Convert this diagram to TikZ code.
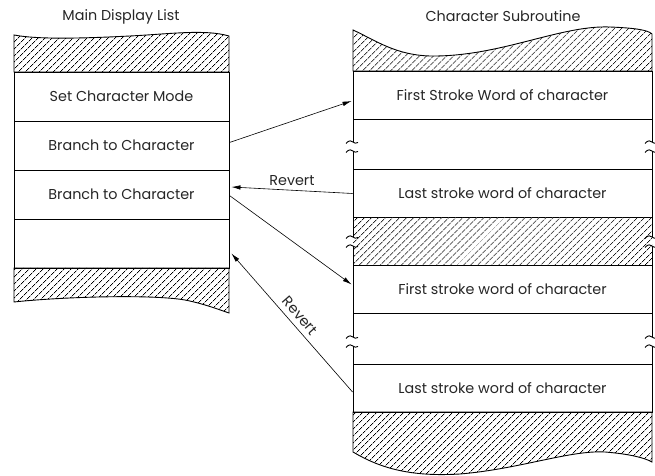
\documentclass[tikz,border=0pt]{standalone}
\usepackage{fontspec}
\setmainfont{Poppins}
\usetikzlibrary{positioning, arrows.meta, patterns.meta, calc}
\tikzset{
    rowbox/.style={draw, line width=0.9bp, minimum height=49bp, inner sep=0pt, text=black!85, font=\fontsize{14.4}{17}\selectfont},
    leftrow/.style={rowbox, minimum width=215bp},
    rightrow/.style={rowbox, minimum width=299bp, minimum height=48bp},
    hatch/.style={pattern={Lines[angle=45, distance=5.2bp, line width=0.7bp]}},
    edge/.style={line width=0.9bp},
    link/.style={line width=0.6bp, -{Latex[length=9bp, width=4.5bp]}},
    title/.style={text=black!85, font=\fontsize{14.4}{17}\selectfont}
}
% two little tear marks on a column edge
\newcommand{\tearmark}[2]{
    \draw[edge] (#1-7,#2+1.5) .. controls (#1-4,#2-2.5) and (#1-1,#2-1) .. (#1,#2)
        .. controls (#1+1,#2+1) and (#1+3,#2+2) .. (#1+5,#2+0.5);
}
\begin{document}
\begin{tikzpicture}[x=1bp, y=-1bp]
    \useasboundingbox (0,0) rectangle (655,476);

    \node[title] (lefttitle) at (121,17) {Main Display List};
    \node[title] (righttitle) at (503,16) {Character Subroutine};

    % main display list
    \draw[edge, hatch] (14,72) -- (14,35) .. controls (40,40) and (90,38) .. (130,36)
        .. controls (170,34) and (205,29) .. (229,36) -- (229,72) -- cycle;
    \node[leftrow] (mode) at (121.5,96.5) {Set Character Mode};
    \node[leftrow] (br1) at (121.5,145.5) {Branch to Character};
    \node[leftrow] (br2) at (121.5,194.5) {Branch to Character};
    \node[leftrow] (blank) at (121.5,243.5) {};
    \draw[edge, hatch] (14,268) -- (14,302) .. controls (60,297) and (150,294) .. (185,300)
        .. controls (205,304) and (220,310) .. (229,313) -- (229,268) -- cycle;

    % character subroutine
    \draw[edge, hatch] (353,71) -- (353,30) .. controls (375,40) and (395,55) .. (430,56)
        .. controls (500,57) and (560,25) .. (610,27) .. controls (635,28) and (648,30) .. (652,34)
        -- (652,71) -- cycle;
    \node[rightrow] (first1) at (502.5,95) {First Stroke Word of character};
    \node[rightrow] (last1) at (502.5,193.5) {Last stroke word of character};
    \fill[hatch] (353,217.5) rectangle (652,265.5);
    \node[rightrow] (first2) at (502.5,289.5) {First stroke word of character};
    \node[rightrow] (last2) at (502.5,388) {Last stroke word of character};
    \draw[edge, hatch] (353,412) -- (353,452) .. controls (380,468) and (410,477) .. (460,474)
        .. controls (520,469) and (570,450) .. (605,452) .. controls (630,454) and (645,458) .. (652,462)
        -- (652,412) -- cycle;

    % broken edges
    \foreach \ex in {353,652} {
        \draw[edge] (\ex,119) -- (\ex,142);
        \draw[edge] (\ex,151) -- (\ex,169.5);
        \draw[edge] (\ex,217.5) -- (\ex,237);
        \draw[edge] (\ex,246) -- (\ex,265.5);
        \draw[edge] (\ex,313.5) -- (\ex,337);
        \draw[edge] (\ex,346) -- (\ex,364);
        \tearmark{\ex}{142}
        \tearmark{\ex}{151}
        \tearmark{\ex}{237}
        \tearmark{\ex}{246}
        \tearmark{\ex}{337}
        \tearmark{\ex}{346}
    }

    % jumps and reverts
    \draw[link] ($(br1.east)+(0,-3)$) -- ($(first1.west)+(-1,6)$);
    \draw[link] (last1.west) -- node[title, above=1bp] {Revert} ($(br2.east)+(2,-7.5)$);
    \draw[link] ($(br2.east)+(0,1)$) -- ($(first2.west)+(-1,-5)$);
    \draw[link] ($(last2.west)+(0,4)$) -- node[title, sloped, above=2bp] {Revert} ($(blank.east)+(2,10)$);
\end{tikzpicture}
\end{document}
